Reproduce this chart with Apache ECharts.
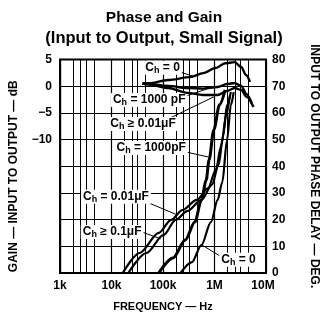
<!DOCTYPE html>
<html>
<head>
<meta charset="utf-8">
<script src="https://cdn.jsdelivr.net/npm/echarts@6/dist/echarts.min.js"></script>
<style>
  html, body { margin: 0; padding: 0; background: #fff; }
  #chart { width: 328px; height: 320px; }
</style>
</head>
<body>
<div id="chart"></div>
<script>
// Frequency axis (Hz, log scale) and its tick labels
const freqTicks = [1e3, 1e4, 1e5, 1e6, 1e7];
const freqTickLabels = ['1k', '10k', '100k', '1M', '10M'];
// Extra vertical rulings inside each decade (multipliers of the decade start)
const decadeStarts = [1e3, 1e4, 1e5, 1e6];
const rulingMultipliers = [1.8, 2.5, 3.2, 4.6];

// Left axis: gain (dB); only the upper values are labelled
const gainLabelled = [5, 0, -5, -10];
// Right axis: phase delay (degrees)
const phaseTicks = [0, 10, 20, 30, 40, 50, 60, 70, 80];

// Gain curves, [frequency Hz, dB]
const gainCh0 = [[4.0e4, 0.5], [5.4e4, 0.55], [1.26e5, 1.15], [3.35e5, 1.7], [6.06e5, 2.45],
  [1.05e6, 3.4], [1.61e6, 4.3], [2.46e6, 4.5], [3.3e6, 3.6], [4.1e6, 2.1], [4.9e6, 0.8]];
const gainCh1000p = [[4.0e4, 0.5], [5.4e4, 0.4], [1.26e5, 0.05], [2.94e5, -0.35], [6.06e5, -0.45],
  [1.15e6, -0.15], [1.75e6, 0.4], [2.46e6, 0.6], [3.3e6, 0.05], [4.2e6, -1.5], [5.3e6, -3.2]];
const gainCh001u = [[4.0e4, 0.5], [5.4e4, 0.3], [1.26e5, -0.35], [2.94e5, -1.25], [6.06e5, -1.65],
  [1.15e6, -1.65], [1.75e6, -0.9], [2.46e6, -0.35], [3.3e6, -0.7], [4.2e6, -2.0], [5.7e6, -3.9]];

// Phase delay curves, [frequency Hz, degrees]
const phaseCh01u = [[1.65e4, 0], [3.53e4, 7.5], [8.26e4, 15.0], [1.435e5, 19.9], [2.39e5, 23.6],
  [4.51e5, 27.4], [7.51e5, 31.8], [1.055e6, 38.6], [1.36e6, 47.9], [1.68e6, 59.2], [2.0e6, 66.7]];
const phaseCh001u = [[2.12e4, 0], [4.75e4, 7.5], [1.02e5, 14.2], [1.77e5, 19.9], [2.95e5, 23.2],
  [5.58e5, 27.4], [8.89e5, 33.0], [1.20e6, 40.5], [1.48e6, 51.7], [1.75e6, 62.9], [2.08e6, 67.8]];
const phaseCh1000p = [[8.26e4, 0], [1.56e5, 5.6], [2.71e5, 12.4], [4.15e5, 19.1], [5.58e5, 27.4],
  [6.90e5, 34.8], [7.83e5, 42.3], [9.68e5, 53.6], [1.25e6, 63.0], [1.61e6, 68.6]];
const phaseCh0 = [[2.19e5, 0], [3.65e5, 4.1], [5.58e5, 10.5], [8.53e5, 19.1], [1.15e6, 27.4],
  [1.42e6, 34.1], [1.75e6, 49.8], [2.08e6, 62.9], [2.36e6, 67.8]];

// Curve annotations: text, label position [Hz, dB], arrow tail and head [Hz, dB]
const noteTexts = ['{t|C}{s|h}{t| = 0}', '{t|C}{s|h}{t| = 1000 pF}', '{t|C}{s|h}{t| ≥ 0.01μF}',
  '{t|C}{s|h}{t| = 1000pF}', '{t|C}{s|h}{t| = 0.01μF}', '{t|C}{s|h}{t| ≥ 0.1μF}', '{t|C}{s|h}{t| = 0}'];
const notePositions = [[9.8e4, 3.45], [5.4e4, -2.6], [4.1e4, -7.1], [5.9e4, -11.6],
  [1.22e4, -20.7], [1.03e4, -27.3], [2.92e6, -32.5]];
const arrowTails = [[2.2e5, 2.6], [2.19e5, -2.2], [1.16e5, -6.3], [1.77e5, -11.9],
  [5.4e4, -21.9], [3.85e4, -27.3], [1.48e6, -32.2]];
const arrowHeads = [[3.8e5, 1.9], [7.2e5, -0.5], [9.68e5, -2.0], [7.83e5, -13.3],
  [1.77e5, -24.0], [9.0e4, -28.6], [5.58e5, -29.7]];

const FONT = '"Liberation Sans", Arial, sans-serif';
const INK = '#000';

const rulings = [];
decadeStarts.forEach(d => rulingMultipliers.forEach(m => rulings.push({ xAxis: d * m })));

function curve(name, data, axis, width) {
  return {
    name, type: 'line', yAxisIndex: axis, data, smooth: 0.3, smoothMonotone: 'x',
    showSymbol: false, symbol: 'none', silent: true,
    lineStyle: { color: INK, width }, z: 5
  };
}

const chart = echarts.init(document.getElementById('chart'), null, { renderer: 'canvas' });
chart.setOption({
  animation: false,
  backgroundColor: '#fff',
  title: [{
    text: 'Phase and Gain',
    left: 'center', top: 5,
    textStyle: { fontFamily: FONT, fontSize: 15.5, fontWeight: 'bold', color: INK }
  }, {
    text: '(Input to Output, Small Signal)',
    left: 'center', top: 25,
    textStyle: { fontFamily: FONT, fontSize: 16.5, fontWeight: 'bold', color: INK }
  }],
  grid: { left: 56, right: 55, top: 59.5, bottom: 47, show: true, borderColor: INK, borderWidth: 2, backgroundColor: 'transparent' },
  xAxis: {
    type: 'log', logBase: 10, min: freqTicks[0], max: freqTicks[freqTicks.length - 1],
    name: 'FREQUENCY — Hz', nameLocation: 'middle', nameGap: 28,
    nameTextStyle: { fontFamily: FONT, fontSize: 11, fontWeight: 'bold', color: INK },
    axisLine: { show: false }, axisTick: { show: false },
    axisLabel: {
      fontFamily: FONT, fontSize: 12, fontWeight: 'bold', color: INK, margin: 7,
      formatter: v => {
        const i = freqTicks.findIndex(t => Math.abs(Math.log10(t) - Math.log10(v)) < 1e-6);
        if (i < 0) return '';
        return i === freqTicks.length - 1 ? '{e|' + freqTickLabels[i] + '}' : freqTickLabels[i];
      },
      rich: { e: { fontFamily: FONT, fontSize: 12, fontWeight: 'bold', color: INK, padding: [0, 6, 0, 0] } }
    },
    splitLine: { show: true, lineStyle: { color: INK, width: 1.2 } }
  },
  yAxis: [{
    type: 'value', min: -35, max: 5, interval: 5,
    name: 'GAIN — INPUT TO OUTPUT — dB', nameLocation: 'middle', nameGap: 40, nameRotate: 90,
    nameTextStyle: { fontFamily: FONT, fontSize: 12, fontWeight: 'bold', color: INK, padding: [0, 0, 0, -20] },
    axisLine: { show: false }, axisTick: { show: false },
    axisLabel: {
      fontFamily: FONT, fontSize: 12, fontWeight: 'bold', color: INK, margin: 8,
      formatter: v => gainLabelled.includes(v) ? String(v).replace('-', '−') : ''
    },
    splitLine: { show: true, lineStyle: { color: INK, width: 1.2 } }
  }, {
    type: 'value', min: phaseTicks[0], max: phaseTicks[phaseTicks.length - 1], interval: 10,
    name: 'INPUT TO OUTPUT PHASE DELAY — DEG.', nameLocation: 'middle', nameGap: 42, nameRotate: -90,
    nameTextStyle: { fontFamily: FONT, fontSize: 12, fontWeight: 'bold', color: INK },
    axisLine: { show: false }, axisTick: { show: false },
    axisLabel: { fontFamily: FONT, fontSize: 12, fontWeight: 'bold', color: INK, margin: 6 },
    splitLine: { show: false }
  }],
  series: [
    {
      name: 'rulings', type: 'line', data: [], silent: true, z: 1,
      markLine: {
        silent: true, symbol: ['none', 'none'], animation: false,
        label: { show: false }, lineStyle: { color: INK, width: 1, type: 'solid' },
        data: rulings
      }
    },
    curve('gain Ch=0', gainCh0, 0, 2.4),
    curve('gain Ch=1000pF', gainCh1000p, 0, 2.4),
    curve('gain Ch>=0.01uF', gainCh001u, 0, 2.4),
    curve('phase Ch>=0.1uF', phaseCh01u, 1, 2.2),
    curve('phase Ch=0.01uF', phaseCh001u, 1, 2.2),
    curve('phase Ch=1000pF', phaseCh1000p, 1, 3),
    curve('phase Ch=0', phaseCh0, 1, 2.2),
    {
      name: 'notes', type: 'line', yAxisIndex: 0, data: [], silent: true, z: 10,
      markLine: {
        silent: true, animation: false, symbol: ['none', 'arrow'], symbolSize: [0, 7],
        label: { show: false }, lineStyle: { color: INK, width: 1, type: 'solid' },
        data: arrowTails.map((a, i) => [{ coord: a }, { coord: arrowHeads[i] }])
      },
      markPoint: {
        silent: true, animation: false, symbol: 'rect', symbolSize: 1,
        itemStyle: { color: 'rgba(0,0,0,0)' },
        label: {
          show: true, position: 'inside', backgroundColor: '#fff', padding: [0, 2],
          formatter: p => noteTexts[p.dataIndex],
          rich: {
            t: { fontFamily: FONT, fontSize: 12, fontWeight: 'bold', color: INK, lineHeight: 14 },
            s: { fontFamily: FONT, fontSize: 9, fontWeight: 'bold', color: INK, lineHeight: 8, verticalAlign: 'bottom' }
          }
        },
        data: notePositions.map(p => ({ coord: p }))
      }
    }
  ]
});
</script>
</body>
</html>
